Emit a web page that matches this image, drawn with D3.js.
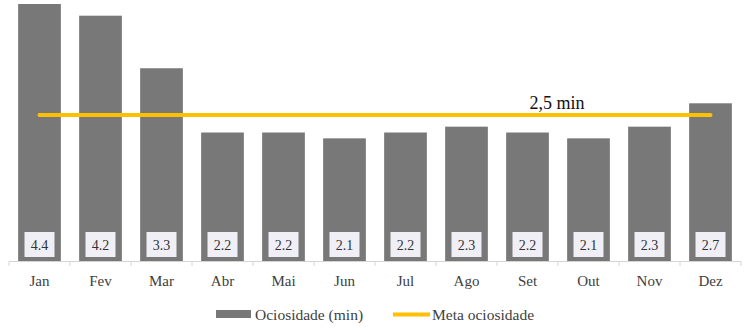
<!DOCTYPE html>
<html><head><meta charset="utf-8">
<script src="https://cdn.jsdelivr.net/npm/d3@7"></script>
<style>body{margin:0;background:#fff}svg{display:block}</style>
</head><body><svg id="c" width="746" height="330" font-family="'Liberation Serif', 'Times New Roman', Tinos, 'DejaVu Serif', serif"></svg>
<script>
const categories=["Jan","Fev","Mar","Abr","Mai","Jun","Jul","Ago","Set","Out","Nov","Dez"];
const ociosidade=[4.4,4.2,3.3,2.2,2.2,2.1,2.2,2.3,2.2,2.1,2.3,2.7];
const meta=[2.5,2.5,2.5,2.5,2.5,2.5,2.5,2.5,2.5,2.5,2.5,2.5];
const metaLabel="2,5 min";
const seriesNames=["Ociosidade (min)","Meta ociosidade"];

const svg=d3.select("#c");
const x=d3.scaleBand().domain(categories).range([9,741]).paddingInner(0.3).paddingOuter(0.15);
const y=d3.scaleLinear().domain([0,4.4]).range([261,4]);

svg.append("g").selectAll("rect").data(ociosidade).join("rect")
 .attr("x",(d,i)=>x(categories[i])).attr("width",x.bandwidth())
 .attr("y",d=>y(d)).attr("height",d=>y(0)-y(d)).attr("fill","#787878");

// axis
const ax=svg.append("g");
ax.append("line").attr("x1",9).attr("x2",741).attr("y1",261.5).attr("y2",261.5).attr("stroke","#d4d4d4");
const step=x.step();
d3.range(13).forEach(i=>{
  const xx=9+i*step;
  ax.append("line").attr("x1",xx).attr("x2",xx).attr("y1",261.5).attr("y2",266).attr("stroke","#d4d4d4");
});
ax.selectAll("text.cat").data(categories).join("text").attr("class","cat")
 .attr("x",d=>x(d)+x.bandwidth()/2).attr("y",286).attr("text-anchor","middle")
 .attr("font-size",15).attr("fill","#404040").text(d=>d);

// data labels
const lg=svg.append("g");
ociosidade.forEach((d,i)=>{
  const cx=x(categories[i])+x.bandwidth()/2;
  lg.append("rect").attr("x",cx-15).attr("y",232).attr("width",30).attr("height",25).attr("fill","#f0eff5");
  lg.append("text").attr("x",cx).attr("y",249.5).attr("text-anchor","middle").attr("font-size",14)
   .attr("fill","#333").text(d.toFixed(1));
});

// meta line
const line=d3.line().x((d,i)=>x(categories[i])+x.bandwidth()/2).y(d=>y(d));
svg.append("path").datum(meta).attr("d",line).attr("fill","none").attr("stroke","#FFC000").attr("stroke-width",4).attr("stroke-linecap","round");
svg.append("text").attr("x",557).attr("y",109).attr("text-anchor","middle").attr("font-size",18).attr("fill","#111").text(metaLabel);

// legend
const leg=svg.append("g");
leg.append("rect").attr("x",216).attr("y",310).attr("width",35).attr("height",8).attr("fill","#787878");
leg.append("text").attr("x",255).attr("y",320).attr("font-size",15.5).attr("fill","#404040").text(seriesNames[0]);
leg.append("line").attr("x1",393).attr("x2",430).attr("y1",314.5).attr("y2",314.5).attr("stroke","#FFC000").attr("stroke-width",4);
leg.append("text").attr("x",432).attr("y",320).attr("font-size",15.5).attr("fill","#404040").text(seriesNames[1]);
</script></body></html>
